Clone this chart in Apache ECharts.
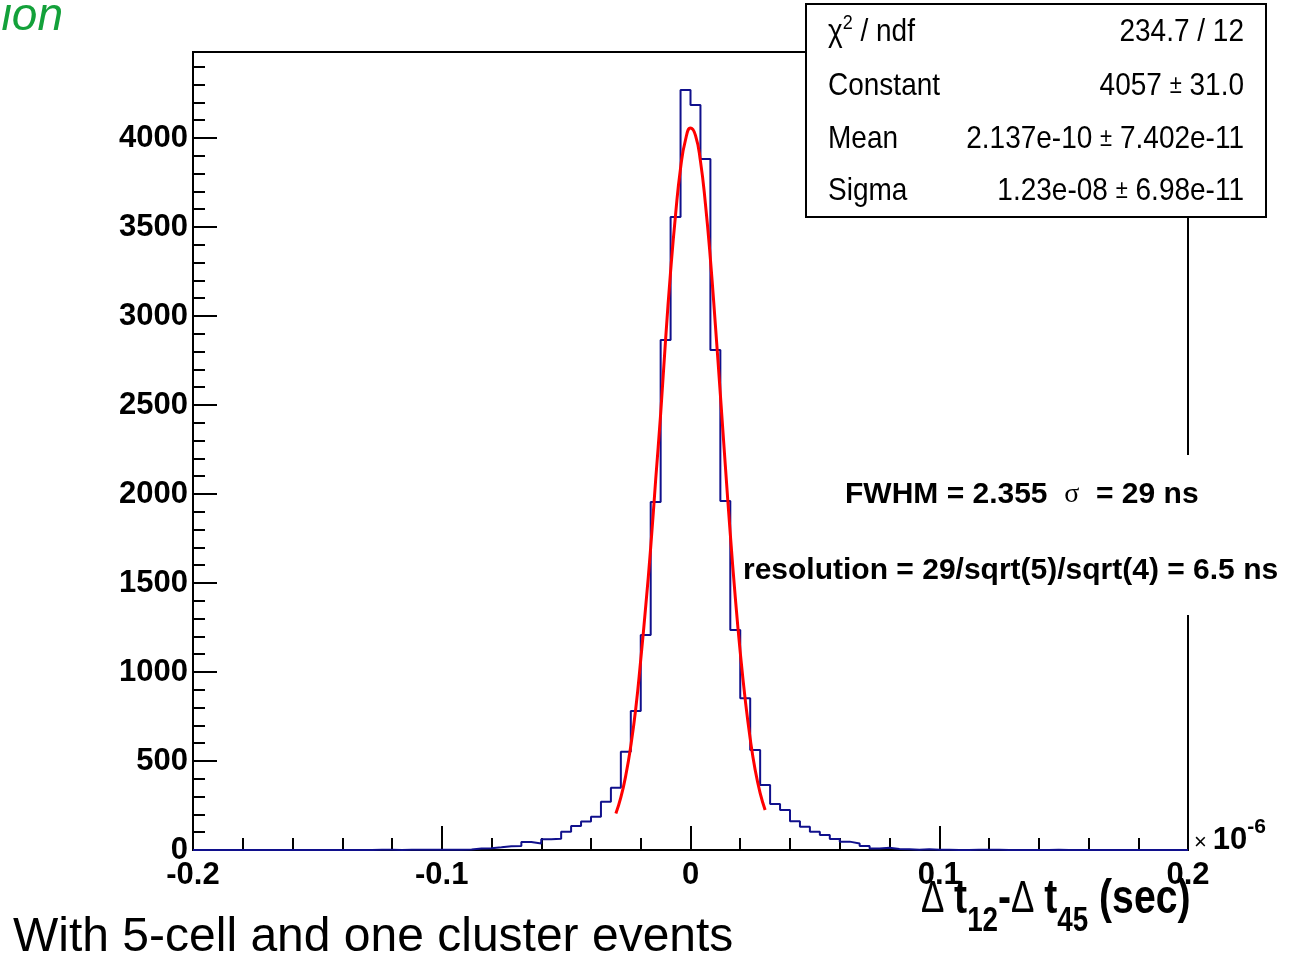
<!DOCTYPE html>
<html>
<head>
<meta charset="utf-8">
<script src="https://cdn.jsdelivr.net/npm/echarts@6/dist/echarts.min.js"></script>
<style>
html, body { margin: 0; padding: 0; background: #fff; }
#main { width: 1289px; height: 957px; }
</style>
</head>
<body>
<div id="main"></div>
<script>
// histogram of dt12 - dt45, 100 bins from -0.2 to 0.2 (x 10^-6 sec)
var binStart = -0.2;
var binWidth = 0.004;
var counts = [
  0, 0, 0, 0, 0, 0, 0, 0, 0, 0,
  0, 0, 0, 0, 0, 0, 0, 0, 2, 1,
  0, 1, 1, 2, 1, 2, 2, 3, 8, 10,
  15, 21, 23, 45, 37, 60, 63, 103, 135, 160,
  187, 271, 350, 552, 781, 1208, 1955, 2865, 3556, 4270,
  4185, 3882, 2809, 1961, 1236, 852, 562, 365, 258, 225,
  162, 131, 103, 84, 62, 47, 37, 22, 9, 12,
  5, 4, 2, 4, 1, 2, 0, 0, 1, 1,
  1, 0, 0, 0, 0, 0, 1, 0, 0, 0,
  0, 0, 0, 0, 0, 0, 0, 0, 0, 0
];

// red gaussian fit
var fitX = [-0.030, -0.028, -0.026, -0.024, -0.022, -0.020, -0.018, -0.016, -0.014, -0.012,
            -0.010, -0.008, -0.006, -0.004, -0.002, 0.000, 0.002, 0.004, 0.006, 0.008,
            0.010, 0.012, 0.014, 0.016, 0.018, 0.020, 0.022, 0.024, 0.026, 0.028, 0.030];
var fitY = [205, 295, 420, 585, 795, 1070, 1370, 1700, 2080, 2450,
            2870, 3250, 3570, 3830, 3990, 4056, 4015, 3870, 3630, 3320,
            2950, 2560, 2160, 1775, 1420, 1110, 845, 625, 450, 320, 225];

// fit statistics box
var statLabels = ['{g|\u03c7}{sup|2}{g| / ndf}', 'Constant', 'Mean', 'Sigma'];
var statValues = ['234.7 / 12', '4057 {pm|\u00b1} 31.0', '2.137e-10 {pm|\u00b1} 7.402e-11', '1.23e-08 {pm|\u00b1} 6.98e-11'];

var xMin = -0.2, xMax = 0.2;
var yMin = 0, yMax = 4483;

var histData = [];
for (var i = 0; i < counts.length; i++) {
  histData.push([+(binStart + i * binWidth).toFixed(4), counts[i]]);
}
histData.push([+(binStart + counts.length * binWidth).toFixed(4), counts[counts.length - 1]]);

var fitData = [];
for (var j = 0; j < fitX.length; j++) {
  fitData.push([fitX[j], fitY[j]]);
}

var SANS = "'Liberation Sans', Arial, sans-serif";
var black = '#000';

function tok(size, weight, extra) {
  var t = { fontFamily: SANS, fontSize: size, fontWeight: weight || 'normal', fill: black };
  if (extra) { for (var k in extra) t[k] = extra[k]; }
  return t;
}

function txt(x, y, text, style, extra) {
  var s = {
    text: text, x: 0, y: 0, fill: black,
    align: 'left', textAlign: 'left',
    verticalAlign: 'middle', textVerticalAlign: 'middle'
  };
  for (var k in style) s[k] = style[k];
  var el = { type: 'text', x: x, y: y, z: 110, style: s };
  if (extra) { for (var e in extra) el[e] = extra[e]; }
  return el;
}

var statRowY = [32, 86, 139, 191];
var graphics = [];

// white patch where the text sits over the right frame
graphics.push({ type: 'rect', z: 100, shape: { x: 1180, y: 455, width: 16, height: 160 }, style: { fill: '#fff' } });
// stats box
graphics.push({ type: 'rect', z: 100, shape: { x: 806, y: 4, width: 460, height: 213 }, style: { fill: '#fff', stroke: black, lineWidth: 2 } });

for (var r = 0; r < statLabels.length; r++) {
  graphics.push(txt(828, statRowY[r], statLabels[r], {
    fontFamily: SANS, fontSize: 28,
    rich: { g: tok(28), sup: tok(18, 'normal', { padding: [0, 0, 16, 0] }) }
  }, { scaleY: 1.15 }));
  graphics.push(txt(1244, statRowY[r], statValues[r], {
    fontFamily: SANS, fontSize: 28, align: 'right', textAlign: 'right',
    rich: { pm: tok(22) }
  }, { scaleY: 1.15 }));
}

// annotations
graphics.push(txt(845, 495, '{b|FWHM = 2.355  }{s|\u03c3}{b|  = 29 ns}', {
  fontFamily: SANS, fontSize: 30,
  rich: { b: tok(30, 'bold'), s: { fontFamily: "'Liberation Serif', serif", fontSize: 28, fill: black } }
}));
graphics.push(txt(743, 571, 'resolution = 29/sqrt(5)/sqrt(4) = 6.5 ns', {
  fontFamily: SANS, fontSize: 30, fontWeight: 'bold'
}));

// x10^-6 exponent
graphics.push(txt(1194, 840, '{x|\u00d7}{b|10}{s|-6}', {
  fontFamily: SANS, fontSize: 30,
  rich: {
    x: tok(22, 'normal', { padding: [6, 6, 0, 0] }),
    b: tok(31, 'bold'),
    s: tok(21, 'bold', { padding: [0, 0, 26, 0] })
  }
}));

// x axis title
graphics.push(txt(921, 900, '{d|\u0394 }{t|t}{sub|12}{t|-}{d|\u0394 }{t|t}{sub|45}{t| (sec)}', {
  fontFamily: SANS, fontSize: 38,
  rich: {
    d: tok(34),
    t: tok(38, 'bold'),
    sub: tok(27, 'bold', { padding: [34, 0, 0, 0] })
  }
}, { scaleY: 1.28, scaleX: 1.03 }));

// cut-off slide title and caption
graphics.push(txt(63, 17, 'ion', {
  fontFamily: SANS, fontSize: 46, fontStyle: 'italic', fill: '#13a13a',
  align: 'right', textAlign: 'right'
}));
graphics.push(txt(13, 938, 'With 5-cell and one cluster events', {
  fontFamily: SANS, fontSize: 48
}));

var labelFont = { fontFamily: SANS, fontWeight: 'bold', fontSize: 31, color: black };

var myChart = echarts.init(document.getElementById('main'));
var option = {
  animation: false,
  backgroundColor: '#fff',
  grid: {
    left: 193, right: 101, top: 52, bottom: 107,
    show: true, borderColor: black, borderWidth: 2, backgroundColor: 'transparent',
    containLabel: false, outerBoundsMode: 'none'
  },
  xAxis: [
    {
      type: 'value', position: 'bottom', min: xMin, max: xMax, interval: 0.1,
      axisLine: { show: true, onZero: false, lineStyle: { color: black, width: 2 } },
      axisTick: { show: true, inside: true, length: 24, lineStyle: { color: black, width: 2 } },
      axisLabel: Object.assign({ margin: 10, showMinLabel: true, showMaxLabel: true }, labelFont),
      splitLine: { show: false }
    },
    {
      type: 'value', position: 'bottom', min: xMin, max: xMax, interval: 0.02,
      axisLine: { show: false, onZero: false },
      axisTick: { show: true, inside: true, length: 12, lineStyle: { color: black, width: 2 } },
      axisLabel: { show: false },
      splitLine: { show: false }
    }
  ],
  yAxis: [
    {
      type: 'value', position: 'left', min: yMin, max: yMax, interval: 500,
      axisLine: { show: true, onZero: false, lineStyle: { color: black, width: 2 } },
      axisTick: { show: true, inside: true, length: 24, lineStyle: { color: black, width: 2 } },
      axisLabel: Object.assign({
        margin: 5, showMaxLabel: false, showMinLabel: true,
        formatter: function (v) { return String(v); }
      }, labelFont),
      splitLine: { show: false }
    },
    {
      type: 'value', position: 'left', min: yMin, max: yMax, interval: 100,
      axisLine: { show: false, onZero: false },
      axisTick: { show: true, inside: true, length: 12, lineStyle: { color: black, width: 2 } },
      axisLabel: { show: false },
      splitLine: { show: false }
    }
  ],
  series: [
    {
      name: 'hist',
      type: 'line',
      step: 'end',
      xAxisIndex: 0, yAxisIndex: 0,
      data: histData,
      symbol: 'none',
      lineStyle: { color: '#10108c', width: 2 },
      z: 3
    },
    {
      name: 'fit',
      type: 'line',
      smooth: true,
      xAxisIndex: 0, yAxisIndex: 0,
      data: fitData,
      symbol: 'none',
      lineStyle: { color: '#ff0000', width: 3 },
      z: 4
    }
  ],
  graphic: { elements: graphics }
};
myChart.setOption(option);
</script>
</body>
</html>
